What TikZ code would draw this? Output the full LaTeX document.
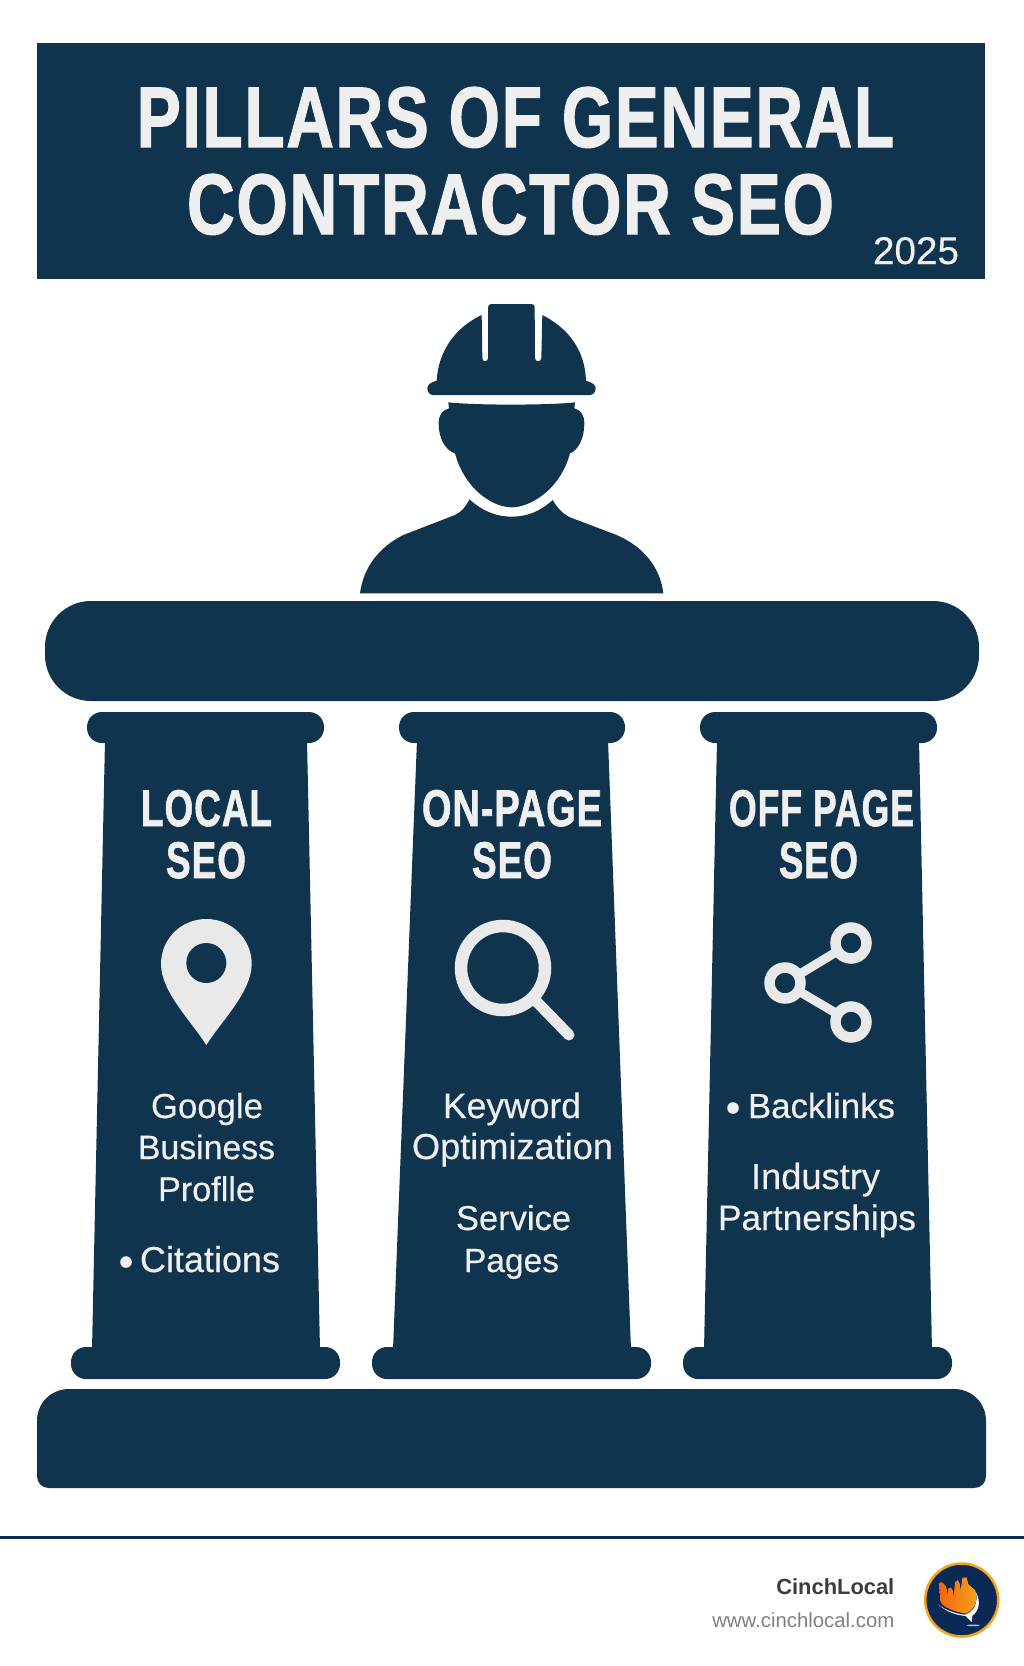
\documentclass[tikz,border=0pt]{standalone}
\usepackage{graphicx}
\usepackage{fontspec}
\setmainfont{Liberation Sans}
\newfontfamily\headfont[FakeBold=1.5,LetterSpace=2.5]{Liberation Sans Bold}
\newfontfamily\bodyfont[FakeBold=0.35]{Liberation Sans}
\usetikzlibrary{shadings}
\definecolor{navy}{HTML}{11344E}
\definecolor{rulenavy}{HTML}{0A2A55}
\definecolor{light}{HTML}{EFEFEF}
\definecolor{iconlight}{HTML}{E9E9E9}
\definecolor{ringorange}{HTML}{F5A31A}
\definecolor{cityleft}{HTML}{F2650F}
\definecolor{cityright}{HTML}{F8A51C}
\definecolor{namegray}{HTML}{3C3C3C}
\definecolor{urlgray}{HTML}{808080}
\tikzset{
  x=1pt,y=-1pt,
  solid navy/.style={fill=navy,draw=none},
  txt/.style={inner sep=0pt,outer sep=0pt,anchor=base,text=light},
  iconline/.style={draw=iconlight,line cap=round},
}
\newcommand{\headtext}[3]{\resizebox{#1pt}{#2pt}{\headfont #3}}
\newcommand{\bodytext}[2]{\resizebox{#1pt}{!}{\bodyfont\fontsize{34pt}{40pt}\selectfont #2}}
\newcommand{\pillarshape}[8]{%
  \fill[solid navy] (#3,740) -- (#4,740) -- (#6,1350) -- (#5,1350) -- cycle;
  \fill[solid navy,rounded corners=15pt] (#1,712) rectangle (#2,743);
  \fill[solid navy,rounded corners=15pt] (#7,1347) rectangle (#8,1379);
}
\begin{document}
\begin{tikzpicture}
\useasboundingbox (0,0) rectangle (1024,1666);
\fill[white] (0,0) rectangle (1024,1666);

% banner
\fill[solid navy] (37,43) rectangle (985,279);
\node[txt] (titleA) at (515.5,147) {\headtext{757}{60}{PILLARS OF GENERAL}};
\node[txt] (titleB) at (510.5,234) {\headtext{647}{60}{CONTRACTOR SEO}};
\node[txt] (year) at (916,264) {\resizebox{86pt}{!}{\bodyfont\fontsize{38pt}{40pt}\selectfont 2025}};

% worker
\begin{scope}[shift={(340,290)},scale=1/3]
  \fill[solid navy] (262,295) .. controls (262,285) and (270,278) .. (290,272)
    .. controls (295,180) and (350,110) .. (425,75)
    -- (427,205) .. controls (428,217) and (442,217) .. (444,205)
    -- (444,52) .. controls (444,46) and (448,42) .. (454,42)
    -- (574,42) .. controls (580,42) and (584,46) .. (584,52)
    -- (585,205) .. controls (587,217) and (602,217) .. (604,205)
    -- (607,75) .. controls (685,115) and (735,180) .. (738,272)
    .. controls (758,278) and (767,285) .. (767,295)
    .. controls (767,308) and (758,315) .. (748,315)
    -- (280,315) .. controls (270,315) and (262,308) .. (262,295) -- cycle;
  \fill[solid navy] (325,337) .. controls (400,346) and (630,346) .. (705,337)
    -- (703,355) .. controls (722,360) and (733,375) .. (733,400)
    .. controls (733,445) and (715,480) .. (690,490)
    .. controls (660,600) and (570,652) .. (515,652)
    .. controls (460,652) and (375,600) .. (345,490)
    .. controls (315,480) and (296,445) .. (296,400)
    .. controls (296,375) and (307,360) .. (327,355) -- cycle;
  \fill[solid navy] (60,910) .. controls (70,830) and (120,770) .. (190,735)
    -- (345,675) .. controls (365,665) and (378,650) .. (388,628)
    .. controls (430,665) and (470,680) .. (515,680)
    .. controls (560,680) and (600,665) .. (638,630)
    .. controls (650,650) and (665,670) .. (690,682)
    -- (830,735) .. controls (910,770) and (960,830) .. (970,910) -- cycle;
\end{scope}

% entablature and plinth
\fill[solid navy,rounded corners=46pt] (45,601) rectangle (979,701);
\fill[solid navy] (37,1421) .. controls (37,1403) and (51,1389) .. (69,1389)
  -- (954,1389) .. controls (972,1389) and (986,1403) .. (986,1421)
  -- (986,1476) .. controls (986,1483) and (981,1488) .. (974,1488)
  -- (49,1488) .. controls (42,1488) and (37,1483) .. (37,1476) -- cycle;

% pillars
\pillarshape{87}{324}{105}{307}{92}{320}{71}{340}
\pillarshape{399}{625}{417}{608}{393}{631}{372}{651}
\pillarshape{700}{937}{717}{919}{704}{932}{683}{952}

% pillar headings
\node[txt] (h1a) at (206.5,826) {\headtext{131}{36}{LOCAL}};
\node[txt] (h1b) at (206,878) {\headtext{80}{36}{SEO}};
\node[txt] (h2a) at (512,826) {\headtext{180}{36}{ON-PAGE}};
\node[txt] (h2b) at (512,878) {\headtext{80}{36}{SEO}};
\node[txt] (h3a) at (821.5,826) {\headtext{185}{36}{OFF PAGE}};
\node[txt] (h3b) at (818.5,878) {\headtext{79}{36}{SEO}};

% pin icon
\fill[iconlight] (206.3,1045) .. controls (192,1022) and (161,992) .. (161,964)
  .. controls (161,939) and (181,919) .. (206.3,919)
  .. controls (231.5,919) and (251.7,939) .. (251.7,964)
  .. controls (251.7,992) and (220.6,1022) .. (206.3,1045) -- cycle;
\fill[navy] (206.3,963) circle[radius=20];

% magnifier icon
\draw[iconline,line width=11pt] (537,1002) -- (569,1035);
\draw[draw=iconlight,line width=12.5pt] (503,968) circle[radius=42];

% share icon
\draw[iconline,line width=9pt] (785,983) -- (851,943);
\draw[iconline,line width=9pt] (785,983) -- (851,1022);
\foreach \cx/\cy in {851/943,785/983,851/1022}
  \draw[draw=iconlight,fill=navy,line width=10.5pt] (\cx,\cy) circle[radius=15.5];

% pillar one text
\node[txt] (g1) at (207,1118) {\bodytext{112}{Google}};
\node[txt] (g2) at (206.5,1159) {\bodytext{137}{Business}};
\node[txt] (g3) at (206.5,1201) {\bodytext{97}{Proflle}};
\node[txt] (g4) at (210,1272) {\bodytext{140}{Citations}};
\fill[light] (126,1262) circle[radius=5.8];

% pillar two text
\node[txt] (k1) at (512,1118) {\bodytext{138}{Keyword}};
\node[txt] (k2) at (512.5,1159) {\bodytext{201}{Optimization}};
\node[txt] (k3) at (513.5,1230) {\bodytext{115}{Service}};
\node[txt] (k4) at (511.5,1272) {\bodytext{95}{Pages}};

% pillar three text
\node[txt] (b1) at (821.5,1118) {\bodytext{147}{Backlinks}};
\fill[light] (733,1108) circle[radius=5.8];
\node[txt] (b2) at (815.5,1189) {\bodytext{129}{Industry}};
\node[txt] (b3) at (817,1230) {\bodytext{198}{Partnerships}};

% footer
\draw[draw=rulenavy,line width=3pt] (0,1537) -- (1024,1537);
\node[inner sep=0pt,anchor=base east,text=namegray] (brand) at (894.5,1594)
  {\resizebox{118pt}{!}{\fontsize{22pt}{24pt}\selectfont\bfseries CinchLocal}};
\node[inner sep=0pt,anchor=base east,text=urlgray] (url) at (894.5,1627)
  {\resizebox{182pt}{!}{\fontsize{20pt}{24pt}\selectfont www.cinchlocal.com}};

% logo
\fill[rulenavy] (961.7,1600) circle[radius=36];
\draw[draw=ringorange,line width=2.5pt] (961.7,1600) circle[radius=36.5];
\begin{scope}[shift={(915,1555)},scale=1/3]
  \fill[left color=cityleft,right color=cityright]
    (72,85) -- (80,80) -- (92,92) -- (95,100) -- (97,120) -- (100,100) -- (108,98)
    -- (113,105) -- (116,126) -- (120,82) -- (128,75) -- (134,85) -- (137,106)
    -- (142,68) -- (155,67) -- (160,88) -- (180,105)
    .. controls (192,130) and (180,165) .. (152,176)
    .. controls (115,170) and (82,155) .. (76,140) -- cycle;
  \fill[white] (70,148) .. controls (95,172) and (125,180) .. (152,183)
    -- (170,201) -- (172,182) .. controls (192,168) and (198,140) .. (183,112)
    .. controls (190,140) and (178,170) .. (150,179)
    .. controls (120,176) and (90,165) .. (70,148) -- cycle;
  \fill[white!70!rulenavy] (175,211) ellipse[x radius=20,y radius=2.5];
\end{scope}
\end{tikzpicture}
\end{document}
